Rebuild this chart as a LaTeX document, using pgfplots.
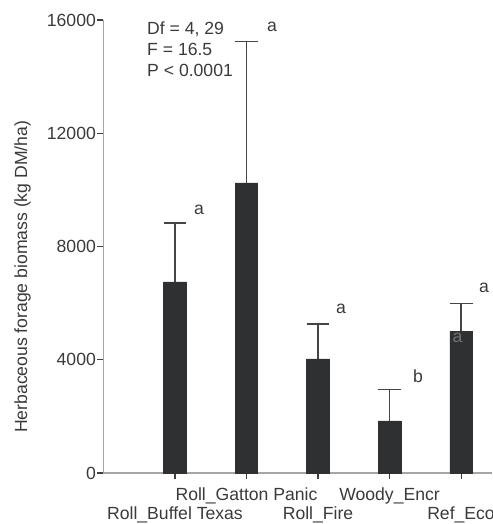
\documentclass[border=0pt]{standalone}
\usepackage{fontspec}
\setmainfont{Liberation Sans}
\usepackage{pgfplots}
\pgfplotsset{compat=1.18}
\definecolor{barcol}{HTML}{2E3032}
\definecolor{txt}{HTML}{3A3A3A}
\newcommand{\cf}{\fontsize{13.2}{15.8}\selectfont}
\begin{document}
\begin{tikzpicture}[font=\cf]
\begin{axis}[
  scale only axis,
  width=291.4pt, height=339.75pt,
  xmin=0, xmax=5.433, ymin=0, ymax=16000,
  ybar, bar width=16.9pt, bar shift=0pt,
  axis x line*=bottom, axis y line*=left,
  axis line style={draw=black!35, line width=0.8pt},
  tick style={draw=black!75, line width=0.8pt},
  tick align=outside, major tick length=4.5pt,
  ytick={0,4000,8000,12000,16000},
  scaled y ticks=false,
  xtick={1,2,3,4,5},
  xticklabels={Roll\_Buffel Texas,Roll\_Gatton Panic,Roll\_Fire,Woody\_Encr,Ref\_Eco},
  xticklabel style={text=txt, font=\cf, inner sep=2pt,
    yshift={-4pt-(1-mod(\ticknum,2))*14.8pt}},
  yticklabel style={text=txt, font=\cf, inner sep=1pt},
  /pgf/number format/1000 sep={},
  /pgf/number format/assume math mode=true,
  ylabel={Herbaceous forage biomass (kg DM/ha)},
  ylabel style={at={(axis description cs:-0.208,0.433)}, anchor=center, text=txt, font=\cf},
  clip=false,
]
\addplot[fill=barcol, draw=barcol,
  error bars/.cd, y dir=plus, y explicit,
  error mark=-,
  error bar style={draw=barcol!90, line width=0.9pt},
  error mark options={draw=barcol!90, line width=0.9pt, mark size=8.6pt, rotate=90}]
  coordinates {
  (1,6750) +- (0,2080)
  (2,10250) +- (0,4990)
  (3,4030) +- (0,1230)
  (4,1840) +- (0,1100)
  (5,5000) +- (0,1000)
  };
\node[anchor=base, text=txt] at (axis cs:1.336,9130) {a};
\node[anchor=base, text=txt] at (axis cs:2.357,15594) {a};
\node[anchor=base, text=txt] at (axis cs:3.322,5634) {a};
\node[anchor=base, text=txt] at (axis cs:4.399,3214) {b};
\node[anchor=base, text=txt] at (axis cs:5.32,6358) {a};
\node[anchor=base, text=black!55] at (axis cs:4.95,4592) {a};
\node[anchor=base west, text=txt, inner sep=0pt] at (axis cs:0.608,15505) {Df = 4, 29};
\node[anchor=base west, text=txt, inner sep=0pt] at (axis cs:0.608,14763) {F = 16.5};
\node[anchor=base west, text=txt, inner sep=0pt] at (axis cs:0.608,14021) {P < 0.0001};
\end{axis}
\pgfresetboundingbox
\path[use as bounding box] (-77.6pt,-38.25pt) rectangle (291.4pt,354.75pt);
\end{tikzpicture}
\end{document}
